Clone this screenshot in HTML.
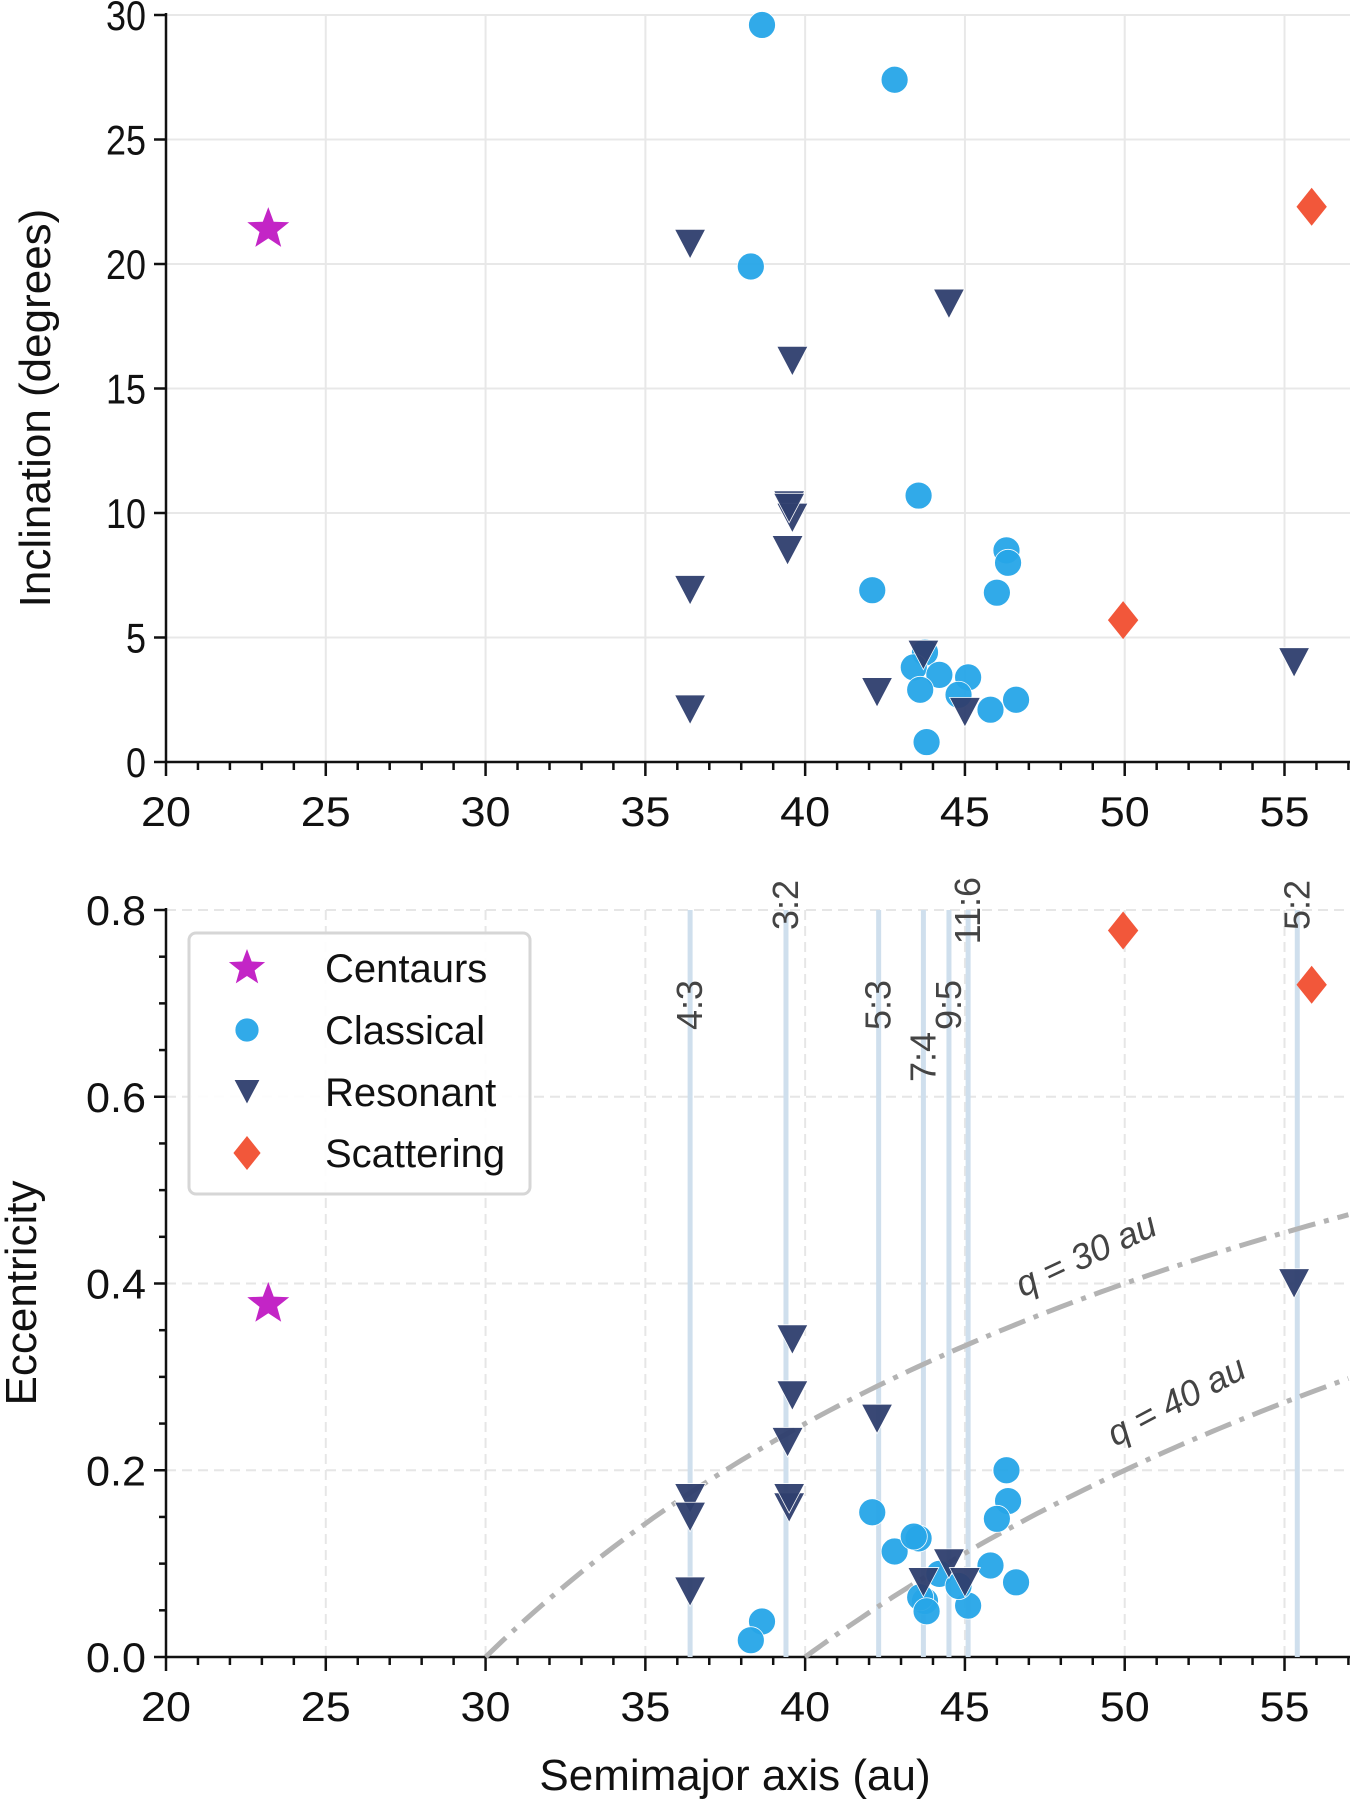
<!DOCTYPE html>
<html><head><meta charset="utf-8"><style>
html,body{margin:0;padding:0;background:#fff;}
svg{display:block;font-family:"Liberation Sans","DejaVu Sans",sans-serif;}
</style></head><body>
<svg id="fig" width="1350" height="1802" viewBox="0 0 1350 1802" xmlns="http://www.w3.org/2000/svg"></svg>
<script>
// ---- data ----
const centaurA = [23.2];
const centaurI = [21.4];
const centaurE = [0.378];
const classicalA = [38.65, 42.8, 38.3, 43.55, 42.1, 46.3, 46.35, 46.0, 43.75, 43.4, 44.2, 43.6, 45.1, 44.8, 45.8, 46.6, 43.8];
const classicalI = [29.6, 27.4, 19.9, 10.7, 6.9, 8.5, 8.0, 6.8, 4.4, 3.8, 3.5, 2.9, 3.4, 2.7, 2.1, 2.5, 0.8];
const classicalE = [0.038, 0.113, 0.018, 0.127, 0.155, 0.2, 0.167, 0.148, 0.06, 0.129, 0.089, 0.064, 0.055, 0.076, 0.098, 0.08, 0.049];
const resonantA = [36.4, 44.5, 39.6, 39.5, 39.6, 39.45, 36.4, 43.7, 42.25, 36.4, 45.0, 55.3, 39.5];
const resonantI = [20.8, 18.4, 16.1, 10.3, 9.8, 8.5, 6.9, 4.3, 2.8, 2.1, 2.0, 4.0, 10.2];
const resonantE = [0.17, 0.10, 0.34, 0.16, 0.28, 0.23, 0.15, 0.08, 0.255, 0.07, 0.08, 0.40, 0.17];
const scatterA = [55.85, 49.95];
const scatterI = [22.3, 5.7];
const scatterE = [0.72, 0.778];
const resNames = ["4:3", "3:2", "5:3", "7:4", "9:5", "11:6", "5:2"];
const resA = [36.4, 39.4, 42.3, 43.7, 44.5, 45.1, 55.4];
const qValues = [30, 40];
const xTicks = [20, 25, 30, 35, 40, 45, 50, 55];
const iTicks = [0, 5, 10, 15, 20, 25, 30];
const eTicks = [0.0, 0.2, 0.4, 0.6, 0.8];
const eTickLabels = ["0.0", "0.2", "0.4", "0.6", "0.8"];

// ---- scales ----
const X0 = 166, PXU = (1284.5 - 166) / 35, XR = 1350;
const sx = a => X0 + (a - 20) * PXU;
const TOP0 = 762, TOP30 = 15;
const syI = i => TOP0 - i * (TOP0 - TOP30) / 30;
const BOT0 = 1657, BOT8 = 910;
const syE = e => BOT0 - e * (BOT0 - BOT8) / 0.8;

const NS = "http://www.w3.org/2000/svg";
const svg = document.getElementById('fig');
function mk(tag, attrs, parent) {
  const el = document.createElementNS(NS, tag);
  for (const k in attrs) el.setAttribute(k, attrs[k]);
  (parent || svg).appendChild(el);
  return el;
}
const C_CLS = "#27a6e8", C_RES = "#2f3f6e", C_SCA = "#f2573a", C_CEN = "#c325c6";

function star(cx, cy, r, parent) {
  let p = [];
  for (let k = 0; k < 10; k++) {
    const rr = k % 2 ? r * 0.42 : r;
    const ang = -Math.PI / 2 + k * Math.PI / 5;
    p.push((cx + rr * Math.cos(ang)).toFixed(1) + "," + (cy + rr * Math.sin(ang)).toFixed(1));
  }
  return mk('polygon', {points: p.join(" "), fill: C_CEN}, parent);
}
function tri(cx, cy, s, parent) {
  const h = s * 0.95;
  return mk('polygon', {points: `${cx - s/2},${cy - h/2} ${cx + s/2},${cy - h/2} ${cx},${cy + h/2}`, fill: C_RES, stroke: "#fff", "stroke-width": 0.8, opacity: 0.95}, parent);
}
function dia(cx, cy, r, parent) {
  return mk('polygon', {points: `${cx},${cy - r} ${cx + r*0.8},${cy} ${cx},${cy + r} ${cx - r*0.8},${cy}`, fill: C_SCA}, parent);
}
function circ(cx, cy, r, parent) {
  return mk('circle', {cx: cx, cy: cy, r: r, fill: C_CLS, stroke: "#fff", "stroke-width": 0.8, opacity: 0.95}, parent);
}

function panel(name, sy, yTicks, yLabels, yTop, yBot, dashed, minorY) {
  const g = mk('g', {});
  
  
  const grid = mk('g', {stroke: dashed ? "#e6e6e6" : "#e8e8e8", "stroke-width": 2, "stroke-dasharray": dashed ? "10,6" : "none"}, g);
  
  
  xTicks.forEach(t => { if (t > 20) mk('line', {x1: sx(t), x2: sx(t), y1: yTop, y2: yBot}, grid); });
  yTicks.forEach(t => { if (sy(t) < yBot - 1) mk('line', {x1: X0, x2: XR, y1: sy(t), y2: sy(t)}, grid); });
  const ax = mk('g', {stroke: "#111", "stroke-width": 2.5}, g);
  
  
  mk('line', {x1: X0, x2: X0, y1: yTop - 2, y2: yBot + 1}, ax);
  mk('line', {x1: X0 - 1, x2: XR, y1: yBot, y2: yBot}, ax);
  for (let a = 20; a <= 57; a++) {
    const major = a % 5 === 0;
    mk('line', {x1: sx(a), x2: sx(a), y1: yBot, y2: yBot + (major ? 14 : 8)}, ax);
  }
  yTicks.forEach(t => mk('line', {x1: X0, x2: X0 - 12, y1: sy(t), y2: sy(t)}, ax));
  minorY.forEach(t => mk('line', {x1: X0, x2: X0 - 7, y1: sy(t), y2: sy(t)}, ax));
  const tl = mk('g', {fill: "#111", "font-size": 42}, g);
  
  
  xTicks.forEach(t => { const e = mk('text', {x: sx(t), y: yBot + 64, "text-anchor": "middle", "textLength": 50, "lengthAdjust": "spacingAndGlyphs"}, tl); e.textContent = t; });
  yTicks.forEach((t, k) => { const s = yLabels[k]; const e = mk('text', {x: X0 - 20, y: sy(t) + 15, "text-anchor": "end", "textLength": s.length * 20, "lengthAdjust": "spacingAndGlyphs"}, tl); e.textContent = s; });
  return g;
}

// ---- top panel ----
panel('inclination-panel', syI, iTicks, iTicks.map(String), TOP30, TOP0, false, []);
const yt = mk('text', {x: 0, y: 0, "font-size": 44, fill: "#111", "text-anchor": "middle", transform: "translate(50,408) rotate(-90)"});
yt.textContent = "Inclination (degrees)";



const topMarks = mk('g', {});


classicalA.forEach((a, k) => { const e = circ(sx(a), syI(classicalI[k]), 13.5, topMarks);   });
resonantA.forEach((a, k) => { const e = tri(sx(a), syI(resonantI[k]), 31, topMarks);   });
scatterA.forEach((a, k) => { const e = dia(sx(a), syI(scatterI[k]), 19, topMarks);   });
centaurA.forEach((a, k) => { const e = star(sx(a), syI(centaurI[k]), 22, topMarks);   });

// ---- bottom panel ----
const minorE = [];
for (let v = 0.05; v < 0.8; v += 0.05) { if (Math.abs((v * 10) % 2) > 0.01 && Math.abs((v*10)%2 - 2) > 0.01) minorE.push(v); }
panel('eccentricity-panel', syE, eTicks, eTickLabels, BOT8, BOT0, true, minorE);

const resG = mk('g', {});


const resTop = [980, 880, 980, 1032, 980, 877, 880];
resA.forEach((a, k) => {
  const l = mk('line', {x1: sx(a), x2: sx(a), y1: BOT8, y2: BOT0, stroke: "#cfdfed", "stroke-width": 5}, resG);
  
  
  const t = mk('text', {x: 0, y: 0, "font-size": 36, fill: "#444", "text-anchor": "end", transform: `translate(${sx(a) + 12},${resTop[k]}) rotate(-90)`}, resG);
  t.textContent = resNames[k];
  
  
});

const qG = mk('g', {});


qValues.forEach(q => {
  let d = "";
  for (let a = q; a <= 57.05; a += 0.25) {
    const e = 1 - q / a;
    d += (d ? "L" : "M") + sx(a).toFixed(1) + "," + syE(e).toFixed(1);
  }
  const p = mk('path', {d: d, fill: "none", stroke: "#b3b3b3", "stroke-width": 5, "stroke-dasharray": "28,9,5,9"}, qG);
  
  
});
const q1 = mk('text', {x: 0, y: 0, "font-size": 36, fill: "#444", "font-style": "italic", transform: `translate(${sx(46.8)},${syE(0.385)}) rotate(-25)`}, qG);
q1.textContent = "q = 30 au";


const q2 = mk('text', {x: 0, y: 0, "font-size": 36, fill: "#444", "font-style": "italic", transform: `translate(${sx(49.7)},${syE(0.225)}) rotate(-28)`}, qG);
q2.textContent = "q = 40 au";



const botMarks = mk('g', {});


classicalA.forEach((a, k) => { const e = circ(sx(a), syE(classicalE[k]), 13.5, botMarks);   });
resonantA.forEach((a, k) => { const e = tri(sx(a), syE(resonantE[k]), 31, botMarks);   });
scatterA.forEach((a, k) => { const e = dia(sx(a), syE(scatterE[k]), 19, botMarks);   });
centaurA.forEach((a, k) => { const e = star(sx(a), syE(centaurE[k]), 22, botMarks);   });

const ye = mk('text', {x: 0, y: 0, "font-size": 44, fill: "#111", "text-anchor": "middle", transform: "translate(36,1293) rotate(-90)"});
ye.textContent = "Eccentricity";


const xt = mk('text', {x: 735, y: 1790, "font-size": 44, fill: "#111", "text-anchor": "middle"});
xt.textContent = "Semimajor axis (au)";



const lg = mk('g', {});


mk('rect', {x: 189, y: 933, width: 341, height: 261, rx: 7, fill: "#fff", "fill-opacity": 0.9, stroke: "#d6d6d6", "stroke-width": 3}, lg);
const legNames = ["Centaurs", "Classical", "Resonant", "Scattering"];
const legY = [968, 1030, 1092, 1153];
legNames.forEach((n, k) => {
  const ent = mk('g', {}, lg);
  
  
  const cx = 247, cy = legY[k];
  if (k === 0) star(cx, cy, 19, ent);
  else if (k === 1) circ(cx, cy, 12, ent);
  else if (k === 2) tri(cx, cy, 26, ent);
  else dia(cx, cy, 17, ent);
  const t = mk('text', {x: 325, y: cy + 14, "font-size": 40, fill: "#111"}, ent);
  t.textContent = n;
});
</script>
</body></html>
